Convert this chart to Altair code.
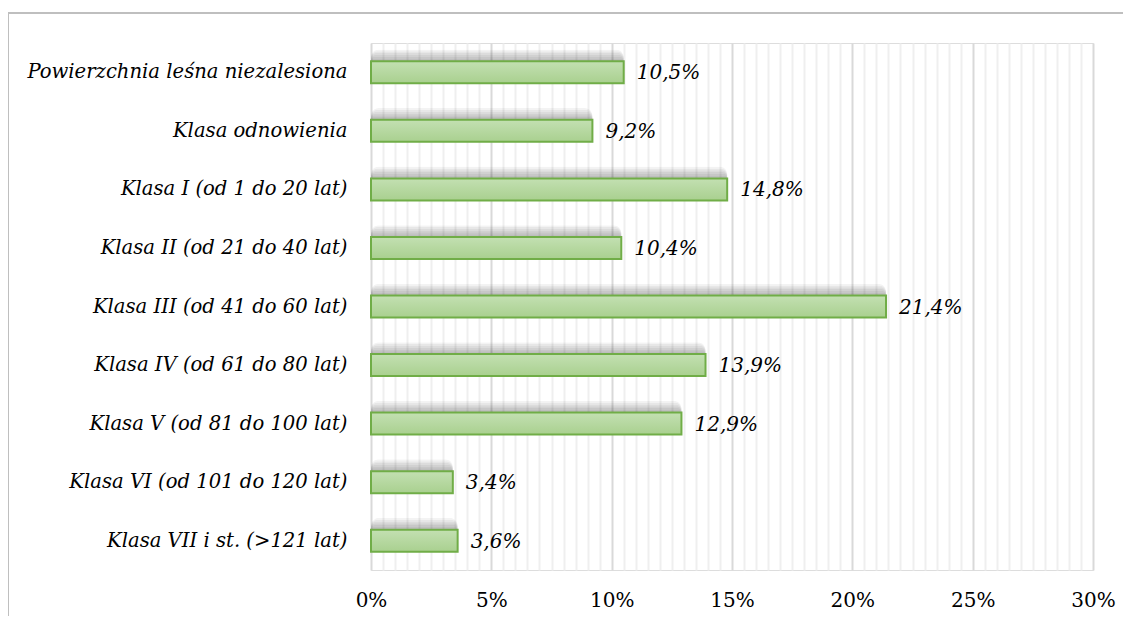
import altair as alt
import pandas as pd

categories = [
    "Powierzchnia leśna niezalesiona",
    "Klasa odnowienia",
    "Klasa I (od 1 do 20 lat)",
    "Klasa II (od 21 do 40 lat)",
    "Klasa III (od 41 do 60 lat)",
    "Klasa IV (od 61 do 80 lat)",
    "Klasa V (od 81 do 100 lat)",
    "Klasa VI (od 101 do 120 lat)",
    "Klasa VII i st. (>121 lat)",
]
values_pct = [10.5, 9.2, 14.8, 10.4, 21.4, 13.9, 12.9, 3.4, 3.6]

df = pd.DataFrame({
    "cat": categories,
    "val": [v / 100 for v in values_pct],
    "label": [f"{v:.1f}".replace(".", ",") + "%" for v in values_pct],
})

grid_values = [i / 200 for i in range(0, 61)]

W, H = 722, 527
LEFT, TOP = 363, 35

xscale = alt.Scale(domain=[0, 0.30], nice=False, zero=True)
yscale = alt.Scale(domain=categories, paddingInner=0, paddingOuter=0)

base = alt.Chart(df)

xaxis = alt.Axis(
    values=grid_values,
    labelExpr="round(datum.value*200) % 10 == 0 ? format(datum.value, '.0%') : ''",
    labelOverlap=False,
    labelFlush=False,
    ticks=False,
    domain=False,
    grid=True,
    gridColor=alt.condition("round(datum.value*200) % 10 == 0", alt.value("#d9d9d9"), alt.value("#efefef")),
    gridWidth=2,
    labelFont="DejaVu Serif",
    labelFontSize=20,
    labelColor="#000000",
    labelPadding=20,
    title=None,
)
yaxis = alt.Axis(
    ticks=False,
    domain=False,
    labelFont="DejaVu Serif",
    labelFontStyle="italic",
    labelFontSize=19.6,
    labelColor="#000000",
    labelPadding=24,
    labelLimit=400,
    title=None,
)

enc_x = alt.X("val:Q", scale=xscale, axis=xaxis)
enc_y = alt.Y("cat:N", scale=yscale, axis=yaxis, sort=categories)

shadows = []
for k in range(7):
    shadows.append(
        base.mark_bar(
            size=20 + 2 * k,
            yOffset=-2 - 0.8 * k,
            xOffset=1 + 1.2 * k,
            x2Offset=0,
            color="#202020",
            opacity=0.055,
            cornerRadius=2 + k,
        ).encode(x=alt.X("val:Q", scale=xscale, axis=xaxis), x2=alt.value(0), y=enc_y)
    )

bars = base.mark_bar(
    size=22,
    stroke="#70ad47",
    strokeWidth=2,
    color=alt.Gradient(
        gradient="linear",
        stops=[
            alt.GradientStop(color="#c3e0b2", offset=0),
            alt.GradientStop(color="#a9d08f", offset=1),
        ],
        x1=0, x2=0, y1=0, y2=1,
    ),
).encode(x=enc_x, y=enc_y)

labels = base.mark_text(
    align="left",
    baseline="middle",
    dx=13,
    dy=1,
    font="DejaVu Serif",
    fontStyle="italic",
    fontSize=20,
    color="#000000",
).encode(x=enc_x, y=enc_y, text="label:N")

border_top = alt.Chart(df).mark_rule(color="#bfbfbf", strokeWidth=2).encode(
    x=alt.value(-LEFT), x2=alt.value(W + 200), y=alt.value(-30)
)
border_left = alt.Chart(df).mark_rule(color="#bfbfbf", strokeWidth=2).encode(
    x=alt.value(-LEFT), y=alt.value(-30), y2=alt.value(H + 200)
)

chart = alt.layer(*shadows, bars, labels, border_top, border_left).properties(
    width=W,
    height=H,
    autosize=alt.AutoSizeParams(type="none"),
    padding={"left": LEFT, "top": TOP, "right": 30, "bottom": 46},
).configure_view(
    stroke="#d9d9d9", strokeWidth=2
).configure(background="#ffffff")

chart.save("out.html", embed_options={"renderer": "svg", "actions": False})
